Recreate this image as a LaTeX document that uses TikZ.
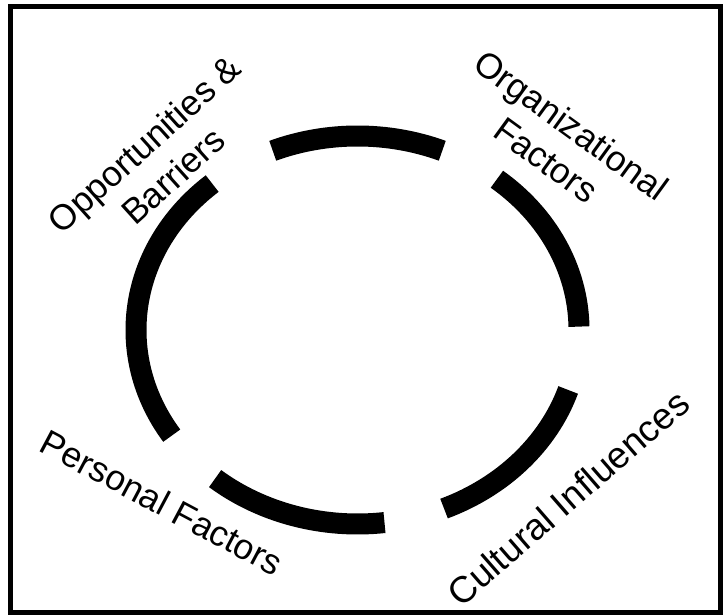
\documentclass[tikz,border=0pt]{standalone}
\usepackage{fontspec}
\setmainfont{Liberation Sans}
\begin{document}
\begin{tikzpicture}[x=1pt,y=1pt,
  ring/.style={line width=21pt, black},
  lbl/.style={font=\fontsize{35.5}{43}\selectfont, align=center, inner sep=0pt},
  frame/.style={line width=5pt, black}]
\useasboundingbox (0,0) rectangle (723,615);
\draw[frame] (10,608.5) rectangle (720.5,2.5);
\coordinate (c) at (357.5,285);
\def\rx{221.5}\def\ry{194}
\draw[ring] (c) ++(67.5:\rx pt and \ry pt) arc[start angle=67.5, end angle=112.5, x radius=\rx pt, y radius=\ry pt];
\draw[ring] (c) ++(1:\rx pt and \ry pt) arc[start angle=1, end angle=51, x radius=\rx pt, y radius=\ry pt];
\draw[ring] (c) ++(-67:\rx pt and \ry pt) arc[start angle=-67, end angle=-18, x radius=\rx pt, y radius=\ry pt];
\draw[ring] (c) ++(-130:\rx pt and \ry pt) arc[start angle=-130, end angle=-83, x radius=\rx pt, y radius=\ry pt];
\draw[ring] (c) ++(131:\rx pt and \ry pt) arc[start angle=131, end angle=213, x radius=\rx pt, y radius=\ry pt];
\node[lbl, rotate=42] (opp) at (158.5,455) {Opportunities \&\\Barriers};
\node[lbl, rotate=-36] (org) at (559,472.5) {Organizational\\Factors};
\node[lbl, rotate=41, font=\fontsize{37}{43}\selectfont] (cul) at (568,117) {Cultural Influences};
\node[lbl, rotate=-28] (per) at (162,112.5) {Personal Factors};
\end{tikzpicture}
\end{document}
